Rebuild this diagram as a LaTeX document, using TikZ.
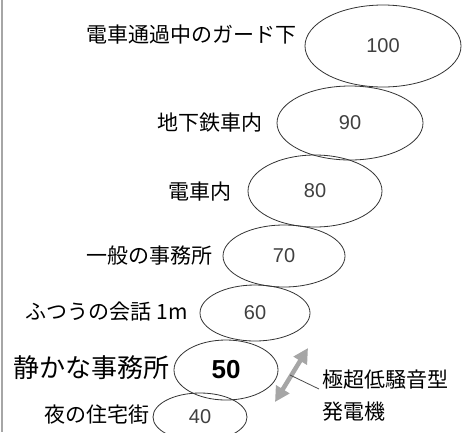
\documentclass[tikz,border=0pt]{standalone}
\usepackage{fontspec}
\newfontfamily\jpfont{Noto Sans CJK JP}
\newfontfamily\numfont{Liberation Sans}
\usetikzlibrary{shapes.geometric,arrows.meta}
\tikzset{
  lvl/.style={ellipse, draw=black!80, line width=0.8pt, inner sep=0pt, font=\numfont\fontsize{20}{22}\selectfont, text=black!75},
  lbl/.style={anchor=east, inner sep=0pt, font=\jpfont\fontsize{21}{24}\selectfont},
}
\begin{document}
\begin{tikzpicture}[x=1pt,y=-1pt]
\useasboundingbox (0,0) rectangle (462,432);
\draw[gray!70, line width=1.5pt] (2,0) -- (2,432);
% ellipses
\node[lvl, minimum width=156, minimum height=82] (e100) at (383,46) {100};
\node[lvl, minimum width=146, minimum height=74] (e90) at (350,123) {90};
\node[lvl, minimum width=134, minimum height=72] (e80) at (315,191) {80};
\node[lvl, minimum width=122, minimum height=62] (e70) at (284,256) {70};
\node[lvl, minimum width=110, minimum height=56] (e60) at (255,313) {60};
\node[lvl, minimum width=104, minimum height=60, font=\numfont\bfseries\fontsize{26}{28}\selectfont, text=black] (e50) at (226,370) {50};
\node[lvl, minimum width=94, minimum height=48] (e40) at (200,417) {40};
% labels
\node[lbl] (l100) at (297,35) {電車通過中のガード下};
\node[lbl] (l90) at (263,123) {地下鉄車内};
\node[lbl] (l80) at (232,192) {電車内};
\node[lbl] (l70) at (213,256) {一般の事務所};
\node[lbl] (l60) at (188,312) {ふつうの会話 1m};
\node[lbl, font=\jpfont\fontsize{26}{28}\selectfont] (l50) at (170,368) {静かな事務所};
\node[lbl] (l40) at (150,415) {夜の住宅街};
\node[anchor=west, inner sep=0pt, align=left, font=\jpfont\fontsize{21}{32}\selectfont] (gen) at (322,396) {極超低騒音型\\発電機};
% arrow
\coordinate (a1) at (275,402);
\coordinate (a2) at (308,348);
\coordinate (am) at (290,375);
\coordinate (gl) at (319,389);
\draw[gray!70, line width=4.5pt, {Triangle[length=15pt,width=15pt]}-{Triangle[length=15pt,width=15pt]}] (a1) -- (a2);
\draw[black!70, line width=0.8pt] (am) -- (gl);
\end{tikzpicture}
\end{document}
